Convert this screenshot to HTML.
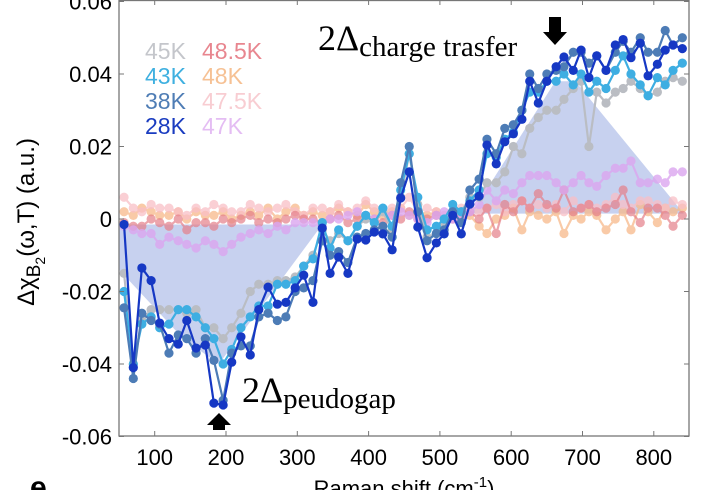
<!DOCTYPE html>
<html><head><meta charset="utf-8"><style>
html,body{margin:0;padding:0;background:#fff;width:708px;height:490px;overflow:hidden}
svg{display:block;font-family:"Liberation Sans",sans-serif}
</style></head><body>
<svg id="chart" width="708" height="490" viewBox="0 0 708 490" xmlns="http://www.w3.org/2000/svg">
<defs><clipPath id="plotclip"><rect x="119" y="0" width="570" height="436"/></clipPath></defs>
<g id="shade" clip-path="url(#plotclip)"></g>
<g id="series" clip-path="url(#plotclip)"></g>
<g id="axes"></g>
<g font-size="23">
<text x="145" y="59" fill="#c4c6cb">45K</text>
<text x="145" y="84" fill="#3fb0e0">43K</text>
<text x="145" y="109" fill="#4f7db5">38K</text>
<text x="145" y="134" fill="#1a3cc0">28K</text>
<text x="202" y="59" fill="#e8868f">48.5K</text>
<text x="202" y="84" fill="#f6c194">48K</text>
<text x="202" y="109" fill="#f8cdd2">47.5K</text>
<text x="202" y="134" fill="#e4bdf3">47K</text>
</g>
<g font-family="'Liberation Serif',serif">
<text x="318" y="50" font-size="36">2Δ<tspan font-size="29" dy="6">charge trasfer</tspan></text>
<polygon points="549,17 561,17 561,32 567,32 555,45 543,32 549,32" fill="#000"/>
</g>
<g font-family="'Liberation Serif',serif">
<text x="242" y="402" font-size="36">2Δ<tspan font-size="29" dy="6">peudogap</tspan></text>
<polygon points="219,413 231,425 225,425 225,430 213,430 213,425 207,425" fill="#000"/>
</g>
<text transform="translate(34,222) rotate(-90)" text-anchor="middle" font-size="24">Δχ<tspan font-size="19" dy="6">B</tspan><tspan font-size="14" dy="5">2</tspan><tspan dy="-11">(ω,T) (a.u.)</tspan></text>
<text x="404" y="496" text-anchor="middle" font-size="22">Raman shift (cm<tspan font-size="15" dy="-9">-1</tspan><tspan dy="9">)</tspan></text>
<text x="30" y="497" font-size="30" font-weight="bold">e</text>
</svg>
<script>
const xVals=[57,70,82,95,107,120,133,145,158,171,183,196,208,221,234,246,259,272,284,297,309,322,335,346,358,371,384,396,408,420,433,445,457,469,482,495,506,518,530,542,555,566,579,591,603,615,626,638,650,663,674,687,698,709,720,733,746,757,768,781,792,805,816,827,840];
const s28=[-0.0015,-0.041,-0.0135,-0.017,-0.0287,-0.033,-0.0345,-0.028,-0.0356,-0.0348,-0.0508,-0.0513,-0.0395,-0.0325,-0.0375,-0.025,-0.0188,-0.0235,-0.023,-0.019,-0.0155,-0.023,-0.0025,-0.015,-0.0105,-0.015,-0.0055,-0.0058,-0.0036,-0.0041,-0.0085,0.0058,0.013,-0.0022,-0.0107,-0.0066,-0.0041,0.001,-0.0041,0.0041,0.0063,0.0204,0.0152,0.0213,0.0235,0.0275,0.038,0.032,0.038,0.042,0.0447,0.041,0.0466,0.039,0.045,0.041,0.048,0.0495,0.0445,0.0485,0.0395,0.0427,0.0466,0.048,0.047];
const s38=[-0.0245,-0.044,-0.026,-0.028,-0.029,-0.037,-0.032,-0.033,-0.037,-0.033,-0.039,-0.050,-0.037,-0.035,-0.035,-0.027,-0.026,-0.028,-0.027,-0.020,-0.019,-0.017,-0.006,-0.010,-0.009,-0.012,-0.005,-0.004,-0.003,-0.002,-0.005,0.010,0.020,0.002,-0.006,-0.004,-0.003,0.002,-0.001,0.008,0.011,0.022,0.018,0.025,0.026,0.030,0.040,0.036,0.040,0.041,0.042,0.046,0.046,0.043,0.045,0.041,0.046,0.049,0.046,0.050,0.046,0.046,0.052,0.048,0.050];
const s43=[-0.020,-0.040,-0.029,-0.027,-0.030,-0.029,-0.025,-0.025,-0.027,-0.030,-0.033,-0.040,-0.036,-0.030,-0.027,-0.024,-0.024,-0.018,-0.018,-0.017,-0.013,-0.011,-0.001,-0.008,-0.003,-0.006,-0.002,0.001,-0.001,0.003,-0.002,0.008,0.018,0.006,-0.003,-0.002,0.000,0.004,0.002,0.005,0.008,0.018,0.017,0.022,0.024,0.030,0.035,0.035,0.038,0.038,0.040,0.037,0.040,0.035,0.038,0.036,0.041,0.045,0.040,0.037,0.034,0.039,0.037,0.041,0.043];
const s45=[-0.015,-0.040,-0.028,-0.025,-0.025,-0.025,-0.025,-0.026,-0.025,-0.030,-0.030,-0.033,-0.030,-0.026,-0.020,-0.018,-0.018,-0.017,-0.017,-0.016,-0.013,-0.010,-0.003,-0.006,-0.004,-0.006,-0.002,0.000,-0.001,0.002,-0.003,0.006,0.018,0.004,-0.005,-0.004,-0.002,0.001,0.002,0.006,0.006,0.010,0.010,0.013,0.020,0.018,0.025,0.028,0.030,0.030,0.033,0.036,0.038,0.020,0.035,0.032,0.035,0.036,0.038,0.036,0.034,0.035,0.038,0.039,0.038];
const s47=[-0.002,-0.003,-0.004,-0.004,-0.007,-0.005,-0.006,-0.007,-0.008,-0.006,-0.007,-0.009,-0.007,-0.005,-0.004,-0.003,-0.004,-0.002,-0.003,-0.001,-0.001,-0.001,-0.002,0.000,0.000,0.001,0.002,0.001,0.000,0.002,0.001,0.002,0.001,0.000,-0.001,0.001,0.002,0.000,0.000,0.002,0.004,0.008,0.005,0.008,0.007,0.010,0.012,0.012,0.012,0.010,0.008,0.010,0.012,0.010,0.009,0.012,0.014,0.014,0.016,0.010,0.010,0.011,0.010,0.013,0.013];
const s485=[-0.001,-0.002,-0.002,0.000,-0.001,-0.002,0.000,-0.003,-0.001,-0.001,-0.002,0.000,-0.001,0.000,0.001,-0.001,0.000,-0.001,0.000,0.001,0.000,0.000,-0.001,0.000,0.001,-0.001,0.000,0.001,0.000,-0.001,0.001,0.000,0.002,0.000,0.000,0.001,-0.001,0.000,0.001,0.002,0.000,0.003,-0.004,0.004,0.002,0.005,0.003,0.007,0.004,0.003,0.008,0.002,0.003,0.004,0.002,0.003,0.004,0.008,0.002,-0.001,0.003,0.003,0.001,-0.002,0.001];
const s48=[0.002,0.001,0.003,0.002,0.001,0.001,0.002,0.000,0.002,0.001,0.001,0.002,0.000,0.001,0.002,0.001,0.003,0.000,0.002,0.003,0.001,0.002,0.001,0.002,0.003,0.002,0.001,0.004,0.002,0.001,0.002,0.003,0.001,0.002,0.001,0.002,0.000,0.001,0.002,0.001,-0.002,-0.004,0.000,0.001,0.003,-0.003,0.002,0.001,0.000,0.002,-0.004,0.001,0.000,0.002,0.001,-0.003,0.000,0.002,-0.003,0.004,0.002,-0.001,0.003,0.002,0.003];
const s475=[0.006,0.003,0.002,0.004,0.003,0.003,0.002,0.001,0.003,0.002,0.004,0.003,0.002,0.002,0.004,0.003,0.002,0.003,0.004,0.002,0.001,0.003,0.003,0.002,0.004,0.002,0.003,0.005,0.003,0.002,0.003,0.003,0.006,0.002,0.003,0.002,0.001,0.002,0.003,0.004,0.002,0.003,0.004,0.002,0.004,0.005,0.003,0.004,0.003,0.004,0.002,0.005,0.003,0.004,0.003,0.004,0.006,0.004,0.003,0.005,0.005,0.004,0.003,0.005,0.004];
const xTicks=[100,200,300,400,500,600,700,800];
const yTicks=[0.06,0.04,0.02,0,-0.02,-0.04,-0.06];
const yTickLabels=["0.06","0.04","0.02","0","-0.02","-0.04","-0.06"];
const shadeLeftX=[50,335,190,140,50];
const shadeLeftY=[-0.0015,-0.0015,-0.040,-0.033,-0.014];
const shadeRightX=[544,662,690,842];
const shadeRightY=[0.0015,0.038,0.038,0.0015];

const X=v=>226+(v-200)*0.713;
const Y=v=>219-v*3625;
const NS="http://www.w3.org/2000/svg";
function mk(tag,parent){const e=document.createElementNS(NS,tag);parent.appendChild(e);return e;}

const shade=document.getElementById('shade');
const lp=mk('polygon',shade);


lp.setAttribute('points',shadeLeftX.map((x,i)=>X(x)+','+Y(shadeLeftY[i])).join(' '));
lp.setAttribute('fill','#a9b8e6');lp.setAttribute('fill-opacity','0.65');
const rp=mk('polygon',shade);


rp.setAttribute('points',shadeRightX.map((x,i)=>X(x)+','+Y(shadeRightY[i])).join(' '));
rp.setAttribute('fill','#a9b8e6');rp.setAttribute('fill-opacity','0.65');

const seriesDefs=[
 ['series-48k',s48,'#f7b98a',0.75],
 ['series-47-5k',s475,'#f9bfc6',0.75],
 ['series-48-5k',s485,'#e57f89',0.7],
 ['series-47k',s47,'#dba6f0',0.8],
 ['series-45k',s45,'#babdc3',1],
 ['series-43k',s43,'#3eaee2',1],
 ['series-38k',s38,'#4d7cb6',1],
 ['series-28k',s28,'#1638c4',1]
];
const sg=document.getElementById('series');
seriesDefs.forEach(d=>{
  const g=mk('g',sg);
  
  
  g.setAttribute('opacity',d[3]);
  const pl=mk('polyline',g);
  
  
  pl.setAttribute('points',d[1].map((v,i)=>X(xVals[i])+','+Y(v)).join(' '));
  pl.setAttribute('fill','none');pl.setAttribute('stroke',d[2]);pl.setAttribute('stroke-width','2.2');
  d[1].forEach((v,i)=>{
    const c=mk('circle',g);
    
    
    c.setAttribute('cx',X(xVals[i]));c.setAttribute('cy',Y(v));c.setAttribute('r','4.6');c.setAttribute('fill',d[2]);
  });
});

const ax=document.getElementById('axes');
const fr=mk('rect',ax);


fr.setAttribute('x','119');fr.setAttribute('y','0.5');fr.setAttribute('width','570');fr.setAttribute('height','435.5');
fr.setAttribute('fill','none');fr.setAttribute('stroke','#777');fr.setAttribute('stroke-width','1.3');
xTicks.forEach(t=>{
  const x=X(t);
  [[436,431],[0,5]].forEach(p=>{const l=mk('line',ax);
    
    
    l.setAttribute('x1',x);l.setAttribute('x2',x);l.setAttribute('y1',p[0]);l.setAttribute('y2',p[1]);l.setAttribute('stroke','#777');});
  const tx=mk('text',ax);
  
  
  tx.setAttribute('x',x);tx.setAttribute('y','465');tx.setAttribute('text-anchor','middle');tx.setAttribute('font-size','22');
  tx.textContent=t;
});
yTicks.forEach((t,i)=>{
  const y=Y(t);
  [[119,124],[689,684]].forEach(p=>{const l=mk('line',ax);
    
    
    l.setAttribute('x1',p[0]);l.setAttribute('x2',p[1]);l.setAttribute('y1',y);l.setAttribute('y2',y);l.setAttribute('stroke','#777');});
  const tx=mk('text',ax);
  
  
  tx.setAttribute('x','112');tx.setAttribute('y',y+8);tx.setAttribute('text-anchor','end');tx.setAttribute('font-size','22');
  tx.textContent=yTickLabels[i];
});
</script>
</body></html>
